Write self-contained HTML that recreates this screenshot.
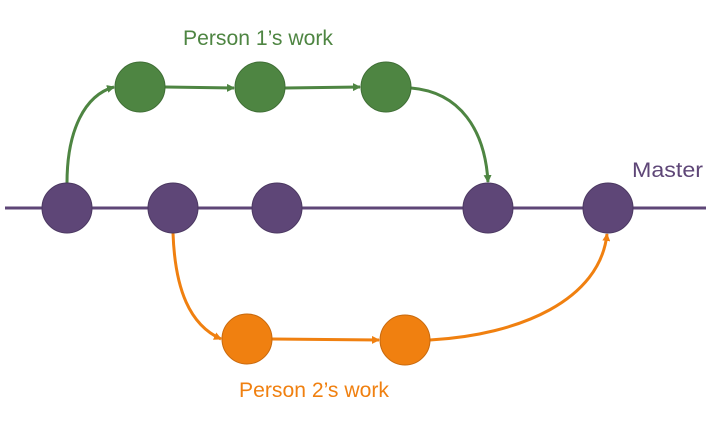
<!DOCTYPE html>
<html><head><style>html,body{margin:0;padding:0;background:#fff;}svg{display:block}</style></head>
<body>
<svg width="720" height="432" viewBox="0 0 720 432" xmlns="http://www.w3.org/2000/svg">
<defs>
<marker id="ag" markerWidth="8" markerHeight="8" refX="7" refY="4" orient="auto" markerUnits="userSpaceOnUse"><path d="M0,0 L8,4 L0,8 z" fill="#4e8542"/></marker>
<marker id="ao" markerWidth="8" markerHeight="8" refX="7" refY="4" orient="auto" markerUnits="userSpaceOnUse"><path d="M0,0 L8,4 L0,8 z" fill="#f08010"/></marker>
</defs>
<line x1="5" y1="208" x2="706" y2="208" stroke="#5e4677" stroke-width="3"/>
<g fill="none" stroke="#4e8542" stroke-width="3">
<path d="M67,183 C67,130 85,95 114,87" marker-end="url(#ag)"/>
<path d="M165,87 L234,88" marker-end="url(#ag)"/>
<path d="M285,88 L360,87" marker-end="url(#ag)"/>
<path d="M411,88 C460,92 485,130 488,182" marker-end="url(#ag)"/>
</g>
<g fill="none" stroke="#f08010" stroke-width="3">
<path d="M173,233 C175,290 190,325 221,339" marker-end="url(#ao)"/>
<path d="M272,339 L379,340" marker-end="url(#ao)"/>
<path d="M430,340 C520,335 600,300 607,234" marker-end="url(#ao)"/>
</g>
<g fill="#4e8542" stroke="#3f6e35" stroke-width="1">
<circle cx="140" cy="87" r="25"/><circle cx="260" cy="87" r="25"/><circle cx="386" cy="87" r="25"/>
</g>
<g fill="#5e4677" stroke="#4b3861" stroke-width="1">
<circle cx="67" cy="208" r="25"/><circle cx="173" cy="208" r="25"/><circle cx="277" cy="208" r="25"/><circle cx="488" cy="208" r="25"/><circle cx="608" cy="208" r="25"/>
</g>
<g fill="#f08010" stroke="#c8690d" stroke-width="1">
<circle cx="247" cy="339" r="25"/><circle cx="405" cy="340" r="25"/>
</g>
<g font-family="Liberation Sans, sans-serif" font-size="21">
<text x="183" y="45" fill="#4e8542" textLength="150" lengthAdjust="spacingAndGlyphs">Person 1’s work</text>
<text x="239" y="397" fill="#f08010" textLength="150" lengthAdjust="spacingAndGlyphs">Person 2’s work</text>
<text x="632" y="177" fill="#5e4677" textLength="71" lengthAdjust="spacingAndGlyphs">Master</text>
</g>
</svg>
</body></html>
